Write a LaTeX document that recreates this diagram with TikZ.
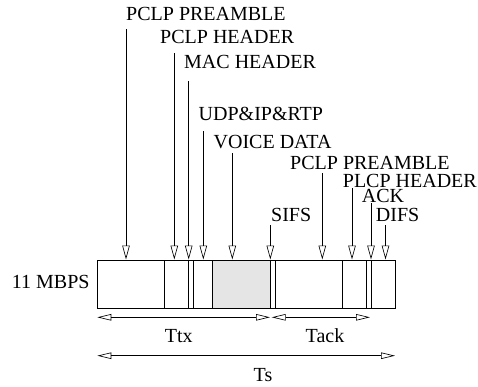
\documentclass[tikz,border=0pt]{standalone}
\usepackage{fontspec}
\setmainfont{Liberation Serif}
\usetikzlibrary{arrows.meta}
\begin{document}
\begin{tikzpicture}[x=1pt,y=-1pt,
  lbl/.style={inner sep=0pt,anchor=base west,font=\fontsize{20}{22}\selectfont},
  clbl/.style={inner sep=0pt,anchor=base,font=\fontsize{20}{22}\selectfont},
  ptr/.style={draw,line width=0.65pt,-{Triangle[open,length=14pt,width=7.5pt]}},
  span/.style={draw,line width=0.65pt,{Triangle[open,length=14pt,width=6.5pt]}-{Triangle[open,length=14pt,width=6.5pt]}},
  seg/.style={draw,line width=0.65pt}]
\useasboundingbox (0,0) rectangle (478,386);
% labels
\node[lbl] (l1) at (126,20) {PCLP PREAMBLE};
\node[lbl] (l2) at (160,43) {PCLP HEADER};
\node[lbl] (l3) at (184,68) {MAC HEADER};
\node[lbl] (l4) at (198.5,120) {UDP\&IP\&RTP};
\node[lbl] (l5) at (213.5,148) {VOICE DATA};
\node[lbl] (l6) at (271,221.7) {SIFS};
\node[lbl] (l7) at (290,169) {PCLP PREAMBLE};
\node[lbl] (l8) at (342.7,187.7) {PLCP HEADER};
\node[lbl] (l9) at (361.7,202.7) {ACK};
\node[lbl] (l10) at (375.7,221.7) {DIFS};
\node[lbl] (rate) at (11.7,288.5) {11 MBPS};
% frame
\fill[gray!20] (212.7,260) rectangle (270,307.7);
\node[seg,minimum width=297.7pt,minimum height=47.7pt,inner sep=0pt,anchor=north west] (frame) at (97.3,260) {};
\foreach \x in {164,188.7,193.3,212.7,270,275,342.3,366.7,371}
  \draw[seg] (\x,260) -- (\x,307.7);
% pointer arrows
\foreach \n/\x/\y in {1/126/29,2/174.3/53,3/188.7/81,4/203.3/131,5/232.3/153,6/270.3/225,7/322.3/173,8/352/188,9/371/203,10/385.5/225}{
  \coordinate (s\n) at (\x,\y);
  \coordinate (e\n) at (\x,259.5);
  \draw[ptr] (s\n) -- (e\n);
}
% span arrows
\coordinate (a0) at (97.3,317.3);
\coordinate (a1) at (270,317.3);
\coordinate (a2) at (271.7,317.3);
\coordinate (a3) at (370,317.3);
\coordinate (b0) at (97.3,355.7);
\coordinate (b1) at (395,355.7);
\draw[span] (a0) -- (a1);
\draw[span] (a2) -- (a3);
\draw[span] (b0) -- (b1);
\node[clbl] (ttx) at (178.7,342.7) {Ttx};
\node[clbl] (tack) at (325,342.7) {Tack};
\node[clbl] (ts) at (263,381) {Ts};
\end{tikzpicture}
\end{document}
